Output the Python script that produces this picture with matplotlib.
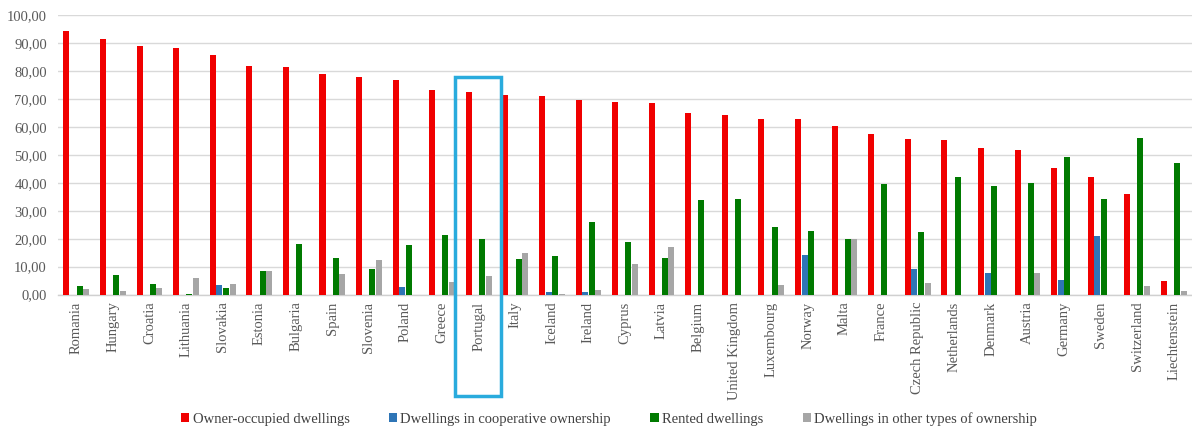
import numpy as np
import matplotlib
matplotlib.use("Agg")
import matplotlib.pyplot as plt
from matplotlib.patches import Rectangle
from matplotlib.ticker import FuncFormatter
import matplotlib.transforms as mtransforms

countries = ["Romania", "Hungary", "Croatia", "Lithuania", "Slovakia", "Estonia",
             "Bulgaria", "Spain", "Slovenia", "Poland", "Greece", "Portugal", "Italy",
             "Iceland", "Ireland", "Cyprus", "Latvia", "Belgium", "United Kingdom",
             "Luxembourg", "Norway", "Malta", "France", "Czech Republic", "Netherlands",
             "Denmark", "Austria", "Germany", "Sweden", "Switzerland", "Liechtenstein"]

owner_occupied = [94.4, 91.5, 88.8, 88.4, 85.9, 81.9, 81.5, 78.9, 77.9, 76.9, 73.1,
                  72.4, 71.5, 71.2, 69.6, 68.9, 68.6, 64.9, 64.2, 62.8, 62.8, 60.3,
                  57.6, 55.8, 55.4, 52.3, 51.7, 45.2, 42.1, 36.1, 4.9]
cooperative = [0.0, 0.0, 0.0, 0.0, 3.5, 0.0, 0.0, 0.0, 0.0, 2.6, 0.0,
               0.0, 0.0, 1.0, 1.0, 0.0, 0.0, 0.0, 0.0, 0.0, 14.1, 0.0,
               0.0, 9.2, 0.0, 7.8, 0.0, 5.1, 20.9, 0.0, 0.0]
rented = [3.1, 7.0, 3.8, 0.4, 2.2, 8.6, 18.0, 13.2, 9.1, 17.8, 21.5,
          19.8, 12.8, 13.8, 26.1, 18.7, 13.1, 34.0, 34.1, 24.2, 22.7, 19.8,
          39.6, 22.3, 42.2, 38.9, 39.9, 49.2, 34.2, 56.1, 47.1]
other_types = [2.0, 1.2, 2.4, 5.9, 3.9, 8.6, 0.0, 7.4, 12.5, 0.0, 4.4,
               6.7, 14.8, 0.4, 1.5, 11.0, 16.9, 0.0, 0.0, 3.4, 0.0, 19.8,
               0.0, 4.3, 0.0, 0.0, 7.9, 0.0, 0.0, 3.2, 1.4]

series_labels = ["Owner-occupied dwellings", "Dwellings in cooperative ownership",
                 "Rented dwellings", "Dwellings in other types of ownership"]
series_colors = ["#F00000", "#2E75B6", "#007A00", "#A6A6A6"]
highlighted = "Portugal"

plt.rcParams["font.family"] = ["Liberation Serif", "DejaVu Serif"]

fig = plt.figure(figsize=(11.92, 4.32), dpi=100)
ax = fig.add_axes([0.0487, 0.318, 0.9513, 0.647])

x = np.arange(len(countries))
step = 0.18
width = 0.165
for i, (vals, col, lab) in enumerate(zip([owner_occupied, cooperative, rented, other_types],
                                         series_colors, series_labels)):
    ax.bar(x + (i - 1.5) * step, vals, width=width, color=col, label=lab, zorder=3)

ax.set_xlim(-0.5, len(countries) - 0.5)
ax.set_ylim(0, 100)
ax.set_yticks(np.arange(0, 101, 10))
ax.yaxis.set_major_formatter(FuncFormatter(lambda v, p: f"{v:.2f}".replace(".", ",")))
ax.grid(axis="y", color="#D9D9D9", linewidth=1.0, zorder=0)
ax.set_axisbelow(True)
for s in ["top", "right", "left"]:
    ax.spines[s].set_visible(False)
ax.spines["bottom"].set_color("#D0D0D0")
ax.spines["bottom"].set_linewidth(1.0)
ax.tick_params(axis="both", length=0, colors="#595959", labelsize=10.5)
ax.tick_params(axis="y", pad=8)
ax.tick_params(axis="x", pad=5)
ax.set_xticks(x)
ax.set_xticklabels(countries, rotation=90, color="#595959")

# frame around the highlighted country
k = countries.index(highlighted)
trans = mtransforms.blended_transform_factory(ax.transData, fig.transFigure)
box = Rectangle((k - 0.64, 1 - 396 / 432), 1.24, (396 - 77) / 432,
                transform=trans, fill=False, edgecolor="#29ABDD",
                linewidth=2.5, clip_on=False, zorder=5)
fig.add_artist(box)

fig.legend(loc="center", bbox_to_anchor=(0.511, 0.03), ncol=4, frameon=False,
           handlelength=0.55, handleheight=0.55, handletextpad=0.25,
           columnspacing=2.7, fontsize=10.5, labelcolor="#404040")

fig.savefig("out.png", dpi=100)
